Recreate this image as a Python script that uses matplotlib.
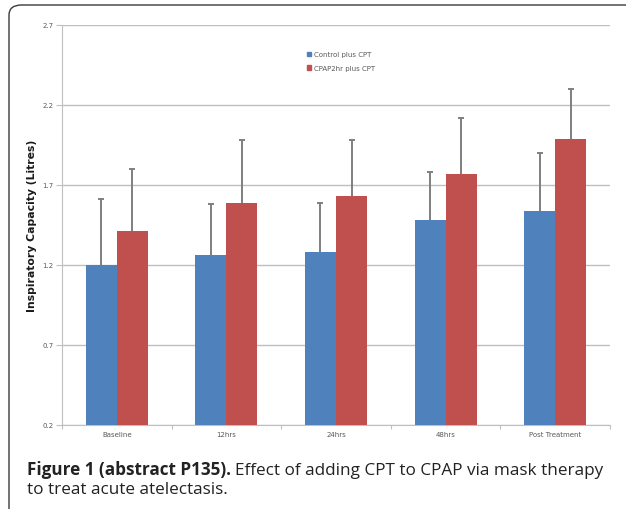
import matplotlib
matplotlib.use("Agg")
import matplotlib.pyplot as plt
from matplotlib.patches import FancyBboxPatch, Patch
import numpy as np

categories = ["Baseline", "12hrs", "24hrs", "48hrs", "Post Treatment"]
control = [1.20, 1.26, 1.28, 1.48, 1.54]
control_err = [0.41, 0.32, 0.31, 0.30, 0.36]
cpap = [1.41, 1.59, 1.63, 1.77, 1.99]
cpap_err = [0.39, 0.39, 0.35, 0.35, 0.31]
series_names = ["Control plus CPT", "CPAP2hr plus CPT"]
yticks = [0.2, 0.7, 1.2, 1.7, 2.2, 2.7]

W, H = 626, 510
fig = plt.figure(figsize=(W / 100, H / 100), dpi=100)
fig.patch.set_facecolor("white")

# rounded frame
box = FancyBboxPatch((9 / W, -20 / H), (W + 20 - 9) / W, (H - 6 + 20) / H,
                     boxstyle="round,pad=0,rounding_size=0.02",
                     transform=fig.transFigure, fill=False,
                     edgecolor="#3a3a3a", linewidth=1.0, zorder=0)
fig.patches.append(box)

ax = fig.add_axes([62 / W, 1 - 426 / H, (610 - 62) / W, (426 - 26) / H])
x = np.arange(len(categories))
bw = 0.283
blue = "#4F81BD"
red = "#C0504D"
ecol = "#7f7f7f"
for offs, vals, errs, col in [(-bw / 2, control, control_err, blue),
                              (bw / 2, cpap, cpap_err, red)]:
    vals = np.array(vals)
    errs = np.array(errs)
    ax.bar(x + offs, vals, bw, color=col, zorder=3)
    ax.vlines(x + offs, vals, vals + errs, color=ecol, linewidth=1.4, zorder=2)
    ax.plot(x + offs, vals + errs, linestyle="none", marker="_", markersize=4,
            markeredgewidth=1.4, color=ecol, zorder=2)

ax.set_ylim(0.2, 2.7)
ax.set_xlim(-0.5, len(categories) - 0.5)
ax.set_yticks(yticks)
ax.set_yticklabels([f"{v:.1f}" for v in yticks], fontsize=5, color="#595959")
ax.set_xticks(x)
ax.set_xticklabels(categories, fontsize=5, color="#595959")
ax.tick_params(axis="x", length=0, pad=4)
ax.set_xticks(np.arange(-0.5, len(categories), 1.0), minor=True)
ax.tick_params(axis="x", which="minor", length=3, color="#bfbfbf", width=0.8)
ax.tick_params(axis="y", length=4, color="#bfbfbf", width=0.8, pad=2)
ax.grid(axis="y", color="#bfbfbf", linewidth=1.0, zorder=0)
ax.set_axisbelow(True)
for s in ["top", "right"]:
    ax.spines[s].set_visible(False)
for s in ["left", "bottom"]:
    ax.spines[s].set_color("#bfbfbf")
    ax.spines[s].set_linewidth(0.8)

ax.set_ylabel("Inspiratory Capacity (Litres)", fontsize=7.8, fontweight="bold",
              color="#1a1a1a", labelpad=4)

handles = [Patch(color=blue), Patch(color=red)]
leg = fig.legend(handles, series_names, loc="upper left",
                 bbox_to_anchor=(301 / W, 1 - 46 / H), frameon=False,
                 fontsize=5, handlelength=0.6, handleheight=0.6,
                 handletextpad=0.3, labelspacing=1.1, labelcolor="#595959")

# caption
fs = 12.3
t1 = fig.text(27 / W, 1 - 475 / H, "Figure 1 (abstract P135).", fontsize=fs,
              fontweight="bold", family="Open Sans", color="#222222", va="baseline")
fig.canvas.draw()
r = fig.canvas.get_renderer()
bb = t1.get_window_extent(r)
fig.text(bb.x1 / W + 4 / W, 1 - 475 / H, "Effect of adding CPT to CPAP via mask therapy",
         fontsize=fs, family="Open Sans", color="#222222", va="baseline")
fig.text(27 / W, 1 - 494 / H, "to treat acute atelectasis.", fontsize=fs,
         family="Open Sans", color="#222222", va="baseline")

fig.savefig("out.png", dpi=100, facecolor="white")
